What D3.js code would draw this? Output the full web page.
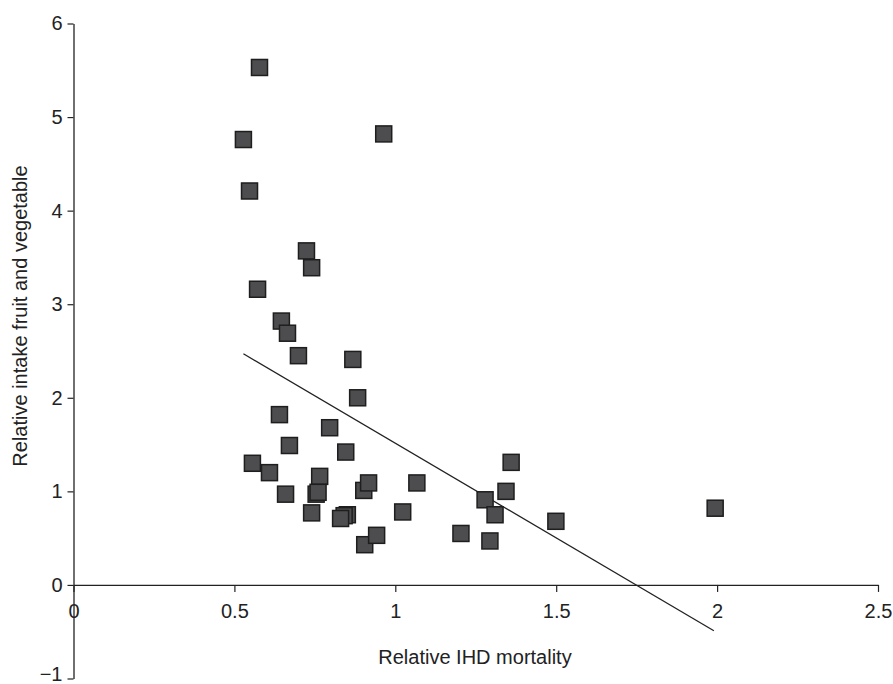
<!DOCTYPE html>
<html>
<head>
<meta charset="utf-8">
<script src="https://cdn.jsdelivr.net/npm/d3@7"></script>
<style>
  body { margin: 0; background: #fff; }
  svg { display: block; }
  text { font-family: "Liberation Sans", Arial, sans-serif; fill: #222; }
</style>
</head>
<body>
<svg id="chart" width="893" height="684"></svg>
<script>
// Data
const mortality = [0.578, 0.528, 0.547, 0.964, 0.724, 0.740, 0.572, 0.646, 0.665, 0.699,
  0.868, 0.883, 0.640, 0.796, 0.671, 0.846, 0.556, 0.609, 0.765, 0.659,
  0.754, 0.760, 0.740, 0.851, 0.841, 0.830, 0.902, 0.917, 0.905, 0.942,
  1.023, 1.067, 1.204, 1.279, 1.294, 1.310, 1.344, 1.360, 1.499, 1.994];
const intake = [5.53, 4.76, 4.21, 4.82, 3.57, 3.39, 3.16, 2.82, 2.69, 2.45,
  2.41, 2.00, 1.82, 1.68, 1.49, 1.42, 1.30, 1.20, 1.16, 0.97,
  0.97, 0.99, 0.77, 0.75, 0.74, 0.71, 1.01, 1.09, 0.43, 0.53,
  0.78, 1.09, 0.55, 0.91, 0.47, 0.75, 1.00, 1.31, 0.68, 0.82];
const trendX = [0.528, 1.99];
const trendY = [2.47, -0.49];
const xTicks = [0, 0.5, 1, 1.5, 2, 2.5];
const yTicks = [-1, 0, 1, 2, 3, 4, 5, 6];
const xTitle = "Relative IHD mortality";
const yTitle = "Relative intake fruit and vegetable";

const svg = d3.select("#chart");
const x = d3.scaleLinear().domain([0, 2.5]).range([73.5, 878]);
const y = d3.scaleLinear().domain([-1, 6]).range([678.5, 23.5]);
const FS = 20;

// Axes
const xAxis = d3.axisBottom(x).tickValues(xTicks).tickFormat(d => String(d)).tickSize(7).tickSizeOuter(0);
const yAxis = d3.axisLeft(y).tickValues(yTicks).tickFormat(d => d < 0 ? "\u2212" + Math.abs(d) : String(d)).tickSize(6).tickSizeOuter(0);

const gx = svg.append("g").attr("transform", `translate(0,${y(0)})`).call(xAxis);
gx.attr("font-size", FS);
gx.select(".domain").attr("stroke", "#222").attr("stroke-width", 1.3);
gx.selectAll(".tick line").attr("stroke", "#222").attr("stroke-width", 1.2);
gx.selectAll(".tick text").attr("font-size", FS).attr("dy", 0).attr("y", 33)
  .style("font-family", "'Liberation Sans', Arial, sans-serif").attr("fill", "#222");

const gy = svg.append("g").attr("transform", `translate(${x(0)},0)`).call(yAxis);
gy.attr("font-size", FS);
gy.select(".domain").attr("stroke", "#222").attr("stroke-width", 1.3);
gy.selectAll(".tick line").attr("stroke", "#222").attr("stroke-width", 1.2);
gy.selectAll(".tick text").attr("font-size", FS).attr("x", -11)
  .attr("y", d => d < 0 ? -4 : 0)
  .style("font-family", "'Liberation Sans', Arial, sans-serif").attr("fill", "#222");

// Trend line
const pts = trendX.map((d, i) => [d, trendY[i]]);
svg.append("path")
  .attr("d", d3.line().x(d => x(d[0])).y(d => y(d[1]))(pts))
  .attr("fill", "none").attr("stroke", "#222").attr("stroke-width", 1.3);

// Markers
const data = mortality.map((d, i) => ({ x: d, y: intake[i] }));
const s = 16;
svg.append("g").selectAll("rect").data(data).join("rect")
  .attr("x", d => x(d.x) - s / 2)
  .attr("y", d => y(d.y) - s / 2)
  .attr("width", s).attr("height", s)
  .attr("fill", "#4d4d4f")
  .attr("stroke", "#1e1e1e")
  .attr("stroke-width", 1.5);

// Titles
svg.append("text").attr("x", 475).attr("y", 664).attr("text-anchor", "middle")
  .attr("font-size", FS).text(xTitle);
svg.append("text").attr("transform", `translate(27,${316}) rotate(-90)`)
  .attr("text-anchor", "middle").attr("font-size", FS).text(yTitle);
</script>
</body>
</html>
